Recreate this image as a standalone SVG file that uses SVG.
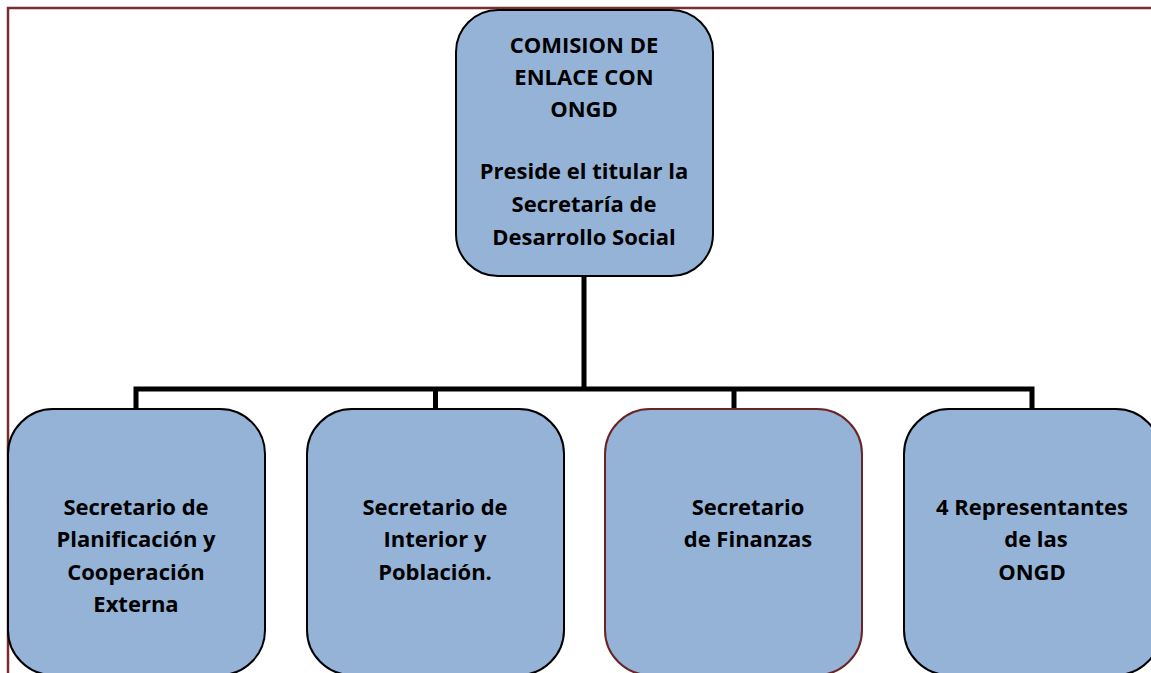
<svg xmlns="http://www.w3.org/2000/svg" width="1151" height="673" viewBox="0 0 1151 673">
<style>
.box{fill:#95b3d7;stroke:#000;stroke-width:2}
.red{stroke:#6b2424}
.t{font-family:"Open Sans","Liberation Sans",sans-serif;font-weight:bold;font-size:22px;fill:#000;text-anchor:middle}
.c{fill:none;stroke:#000;stroke-width:5}
</style>
<rect width="1151" height="673" fill="#fff"/>
<g id="frame"><path d="M8 673 V8 H1151" fill="none" stroke="#7b2e2e" stroke-width="2.5"/></g>
<g id="connectors">
<path class="c" d="M584 276 V389"/>
<path class="c" d="M136 410 V389 H1032 V410"/>
<path class="c" d="M435.5 389 V410"/>
<path class="c" d="M734 389 V410"/>
</g>
<g id="top">
<rect class="box" x="456" y="10" width="257" height="266" rx="42"/>
<text class="t" x="584"><tspan x="584" y="53">COMISION DE</tspan><tspan x="584" y="85">ENLACE CON</tspan><tspan x="584" y="117">ONGD</tspan><tspan x="584" y="179">Preside el titular la</tspan><tspan x="584" y="212">Secretaría de</tspan><tspan x="584" y="245">Desarrollo Social</tspan></text>
</g>
<g id="n1">
<rect class="box" x="8" y="409" width="257" height="266" rx="45"/>
<text class="t"><tspan x="136" y="515">Secretario de</tspan><tspan x="136" y="547">Planificación y</tspan><tspan x="136" y="580">Cooperación</tspan><tspan x="136" y="612">Externa</tspan></text>
</g>
<g id="n2">
<rect class="box" x="307" y="409" width="257" height="266" rx="45"/>
<text class="t"><tspan x="435" y="515">Secretario de</tspan><tspan x="435" y="547">Interior y</tspan><tspan x="435" y="580">Población.</tspan></text>
</g>
<g id="n3">
<rect class="box red" x="605" y="409" width="257" height="266" rx="45"/>
<text class="t"><tspan x="748" y="515">Secretario</tspan><tspan x="748" y="547">de Finanzas</tspan></text>
</g>
<g id="n4">
<rect class="box" x="904" y="409" width="257" height="266" rx="45"/>
<text class="t"><tspan x="1032" y="515">4 Representantes</tspan><tspan x="1036" y="547">de las</tspan><tspan x="1032" y="580">ONGD</tspan></text>
</g>
</svg>
